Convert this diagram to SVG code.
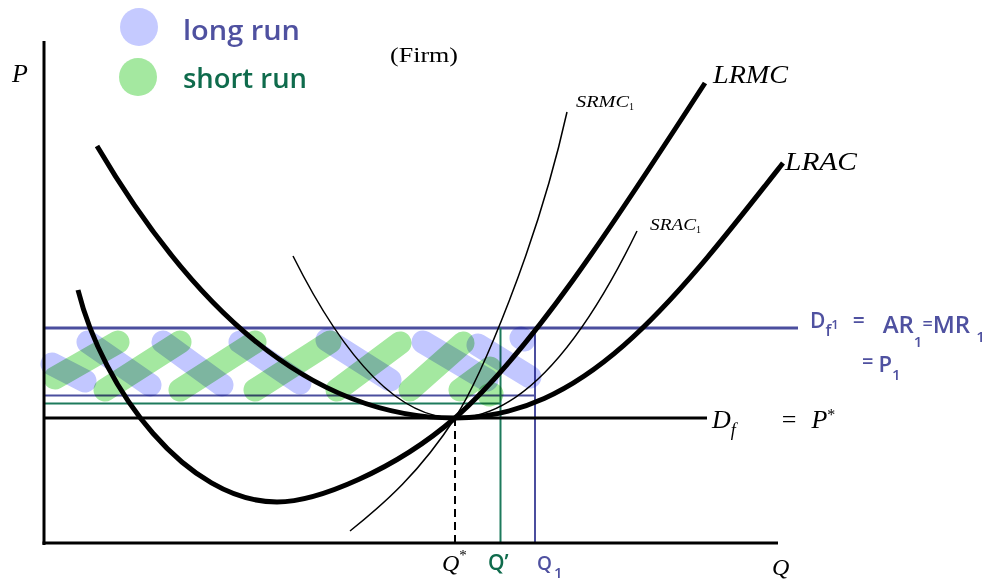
<svg xmlns="http://www.w3.org/2000/svg" width="986" height="582" viewBox="0 0 986 582">
<style>
.ax{stroke:#000;stroke-width:3;fill:none}
.thick{stroke:#000;stroke-width:5;fill:none}
.thin{stroke:#000;stroke-width:1.5;fill:none}
.pl{stroke:#4b4e9e;fill:none}
.gl{stroke:#1d7a5c;fill:none}
.hb{stroke:#c2c7ff;stroke-width:23;stroke-linecap:round;fill:none;mix-blend-mode:multiply}
.hg{stroke:#a4e8a0;stroke-width:23;stroke-linecap:round;fill:none;mix-blend-mode:multiply}
.m{font-family:"Liberation Serif",serif;font-style:italic;fill:#000}
.hw{font-family:"Open Sans","DejaVu Sans",sans-serif;font-weight:600}
.pu{fill:#4f51a0}
.gr{fill:#0f6b4c}
</style>
<rect width="986" height="582" fill="#fff"/>
<g id="legend">
  <circle cx="139" cy="27" r="19" fill="#c5caff"/>
  <circle cx="138" cy="77" r="19" fill="#a4e8a0"/>
  <text class="hw pu" x="183" y="40" font-size="27" textLength="117" lengthAdjust="spacingAndGlyphs">long run</text>
  <text class="hw gr" x="183" y="88" font-size="27" textLength="124" lengthAdjust="spacingAndGlyphs">short run</text>
</g>
<g id="title">
  <text x="390" y="62" font-family="Liberation Serif,serif" font-size="20" textLength="68" lengthAdjust="spacingAndGlyphs">(Firm)</text>
</g>
<g id="lines">
  <line class="pl" x1="44" y1="328" x2="798" y2="328" stroke-width="3"/>
  <line class="pl" x1="44" y1="395.5" x2="535" y2="395.5" stroke-width="1.8"/>
  <line class="gl" x1="44" y1="403.5" x2="500" y2="403.5" stroke-width="1.8"/>
  <line class="gl" x1="500.5" y1="328" x2="500.5" y2="543" stroke-width="2"/>
  <line class="pl" x1="535" y1="328" x2="535" y2="543" stroke-width="2"/>
  <line class="ax" x1="44" y1="418" x2="707" y2="418"/>
  <line x1="455" y1="418" x2="455" y2="543" stroke="#000" stroke-width="2" stroke-dasharray="8 5"/>
</g>
<g id="curves">
  <path id="LRAC" class="thick" d="M97,146 C197,316 315,418 455,418 C585,418 673,303 783,163"/>
  <path id="LRMC" class="thick" d="M78,290 C103,390 187,502 277,502 C317,502 395,470 455,418 C535,348 625,206 705,83"/>
  <path id="SRMC" class="thin" d="M350,531 C385,503 420,472 455,418 C480,379 537,247 567,112"/>
  <path id="SRAC" class="thin" d="M293,256 Q374,418 455,418 Q546,418 637,231"/>
</g>
<g id="axes">
  <line class="ax" x1="44" y1="41" x2="44" y2="545"/>
  <line class="ax" x1="42.5" y1="543" x2="778" y2="543"/>
</g>
<g id="hatch">
  <line class="hb" x1="52" y1="364" x2="85" y2="381"/>
  <line class="hb" x1="88" y1="342" x2="150" y2="385"/>
  <line class="hb" x1="163" y1="342" x2="222" y2="385"/>
  <line class="hb" x1="240" y1="342" x2="300" y2="383"/>
  <line class="hb" x1="327" y1="340" x2="390" y2="380"/>
  <line class="hb" x1="423" y1="342" x2="487" y2="380"/>
  <line class="hb" x1="478" y1="345" x2="530" y2="377"/>
  <line class="hb" x1="521" y1="338" x2="524" y2="340"/>
  <line class="hg" x1="55" y1="378" x2="118" y2="342"/>
  <line class="hg" x1="105" y1="390" x2="180" y2="342"/>
  <line class="hg" x1="180" y1="390" x2="255" y2="342"/>
  <line class="hg" x1="255" y1="390" x2="330" y2="342"/>
  <line class="hg" x1="337" y1="390" x2="400" y2="343"/>
  <line class="hg" x1="410" y1="390" x2="463" y2="343"/>
  <line class="hg" x1="460" y1="390" x2="490" y2="368"/>
  <line class="hg" x1="489" y1="395" x2="492" y2="394"/>
</g>
<g id="labels">
  <text class="m" x="12" y="82" font-size="26">P</text>
  <text class="m" x="713" y="83" font-size="26" textLength="75" lengthAdjust="spacingAndGlyphs">LRMC</text>
  <text class="m" x="785" y="170" font-size="26" textLength="72" lengthAdjust="spacingAndGlyphs">LRAC</text>
  <text class="m" x="576" y="107" font-size="16"><tspan textLength="53" lengthAdjust="spacingAndGlyphs">SRMC</tspan><tspan font-style="normal" font-size="10" dy="3">1</tspan></text>
  <text class="m" x="650" y="230" font-size="16"><tspan textLength="46" lengthAdjust="spacingAndGlyphs">SRAC</tspan><tspan font-style="normal" font-size="10" dy="3">1</tspan></text>
  <text class="m" x="712" y="428" font-size="26">D<tspan font-size="18" dy="8">f</tspan><tspan font-style="normal" dx="46" dy="-8">=</tspan><tspan dx="15">P</tspan><tspan font-style="normal" font-size="16" dy="-8">*</tspan></text>
  <text class="m" x="442" y="571" font-size="24">Q<tspan font-style="normal" font-size="15" dy="-11">*</tspan></text>
  <text class="m" x="772" y="575" font-size="24">Q</text>
  <text class="hw gr" x="488" y="570" font-size="21">Q’</text>
  <text class="hw pu" x="537" y="570" font-size="19">Q<tspan font-size="15" dx="2" dy="8">1</tspan></text>
</g>
<g id="demand-label" class="hw pu">
  <text x="810" y="328" font-size="21">D<tspan font-size="16" dy="8">f</tspan><tspan font-size="13" dy="-7">1</tspan><tspan font-size="21" dx="14" dy="-1">=</tspan><tspan font-size="24" dx="18" dy="5">AR</tspan><tspan font-size="15" dy="14">1</tspan><tspan font-size="18" dy="-17">=</tspan><tspan font-size="24" dy="3">MR</tspan><tspan font-size="15" dx="6" dy="9">1</tspan></text>
  <text x="862" y="368" font-size="20">=<tspan font-size="22" dx="5" dy="4">P</tspan><tspan font-size="15" dy="8">1</tspan></text>
</g>
</svg>
